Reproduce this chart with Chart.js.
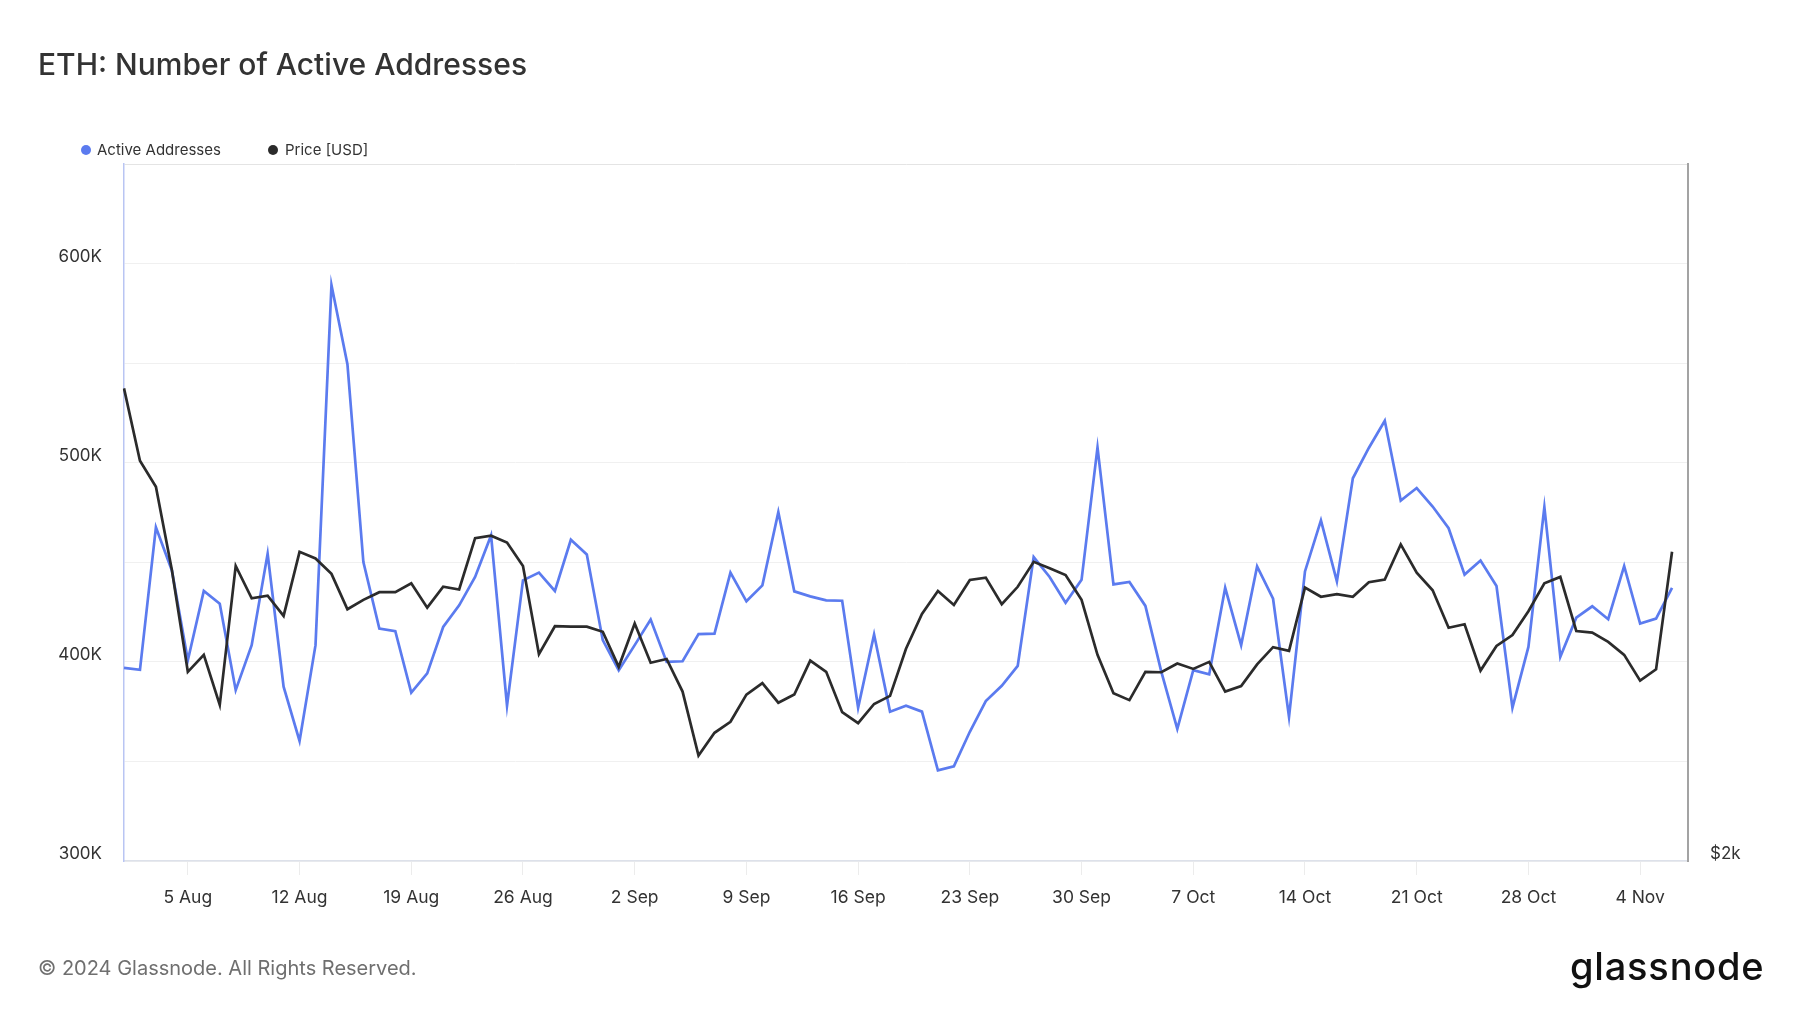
<!DOCTYPE html>
<html>
<head>
<meta charset="utf-8">
<script src="https://cdn.jsdelivr.net/npm/chart.js@4.4.1/dist/chart.umd.min.js"></script>
<style>
  html, body { margin: 0; padding: 0; background: #fff; }
  body { width: 1800px; height: 1013px; position: relative; overflow: hidden; font-family: Inter, 'Noto Sans', sans-serif; }
  #title { position: absolute; left: 38px; top: 45px; font-size: 30px; font-weight: 500; color: #333; line-height: 38px; }
  .leg { position: absolute; top: 141px; font-size: 15px; color: #333; line-height: 18px; }
  .dot { position: absolute; top: 4px; width: 10px; height: 10px; border-radius: 50%; }
  #footer { position: absolute; left: 38px; top: 955px; font-size: 20px; color: #6f6f6f; line-height: 26px; }
  #logo { position: absolute; left: 1570px; top: 947px; font-size: 38px; font-weight: 500; color: #111; letter-spacing: 0.8px; line-height: 38px; }
  #wrap { position: absolute; left: 0; top: 0; width: 1800px; height: 1013px; }
</style>
</head>
<body>
<div id="wrap"><canvas id="myChart" width="1800" height="1013"></canvas></div>
<div id="title">ETH: Number of Active Addresses</div>
<div class="leg" style="left:97px"><span class="dot" style="left:-16px;background:#5b7bef"></span>Active Addresses</div>
<div class="leg" style="left:285px"><span class="dot" style="left:-17px;background:#2b2b2b"></span>Price [USD]</div>
<div id="footer">© 2024 Glassnode. All Rights Reserved.</div>
<div id="logo">glassnode</div>
<script>
const ctx = document.getElementById('myChart');

const days = [
  '1 Aug','2 Aug','3 Aug','4 Aug','5 Aug','6 Aug','7 Aug','8 Aug','9 Aug','10 Aug','11 Aug','12 Aug','13 Aug','14 Aug','15 Aug','16 Aug',
  '17 Aug','18 Aug','19 Aug','20 Aug','21 Aug','22 Aug','23 Aug','24 Aug','25 Aug','26 Aug','27 Aug','28 Aug','29 Aug','30 Aug','31 Aug',
  '1 Sep','2 Sep','3 Sep','4 Sep','5 Sep','6 Sep','7 Sep','8 Sep','9 Sep','10 Sep','11 Sep','12 Sep','13 Sep','14 Sep','15 Sep',
  '16 Sep','17 Sep','18 Sep','19 Sep','20 Sep','21 Sep','22 Sep','23 Sep','24 Sep','25 Sep','26 Sep','27 Sep','28 Sep','29 Sep','30 Sep',
  '1 Oct','2 Oct','3 Oct','4 Oct','5 Oct','6 Oct','7 Oct','8 Oct','9 Oct','10 Oct','11 Oct','12 Oct','13 Oct','14 Oct','15 Oct','16 Oct',
  '17 Oct','18 Oct','19 Oct','20 Oct','21 Oct','22 Oct','23 Oct','24 Oct','25 Oct','26 Oct','27 Oct','28 Oct','29 Oct','30 Oct','31 Oct',
  '1 Nov','2 Nov','3 Nov','4 Nov','5 Nov','6 Nov','7 Nov'
];

const xTickLabels = ['5 Aug','12 Aug','19 Aug','26 Aug','2 Sep','9 Sep','16 Sep','23 Sep','30 Sep','7 Oct','14 Oct','21 Oct','28 Oct','4 Nov'];
const yTickLabels = [300000, 400000, 500000, 600000];
const priceTickLabels = [2000];

const activeAddresses = [
  397000, 396000, 467600, 445900, 400800, 435600, 429200, 385800, 408400, 454300,
  387500, 360300, 408400, 589200, 549500, 450100, 416700, 415400, 384600, 394200,
  417500, 428400, 442600, 463500, 378000, 440900, 444800, 435600, 461300, 453900,
  410900, 395800, 408400, 421200, 400000, 400300, 413900, 414200, 444800, 430400,
  438400, 475200, 435400, 432900, 430900, 430700, 377000, 413700, 375000, 378000,
  375000, 345500, 347500, 364900, 380300, 388000, 398000, 452600, 442600, 429700,
  441200, 507700, 438900, 440100, 428100, 395000, 366300, 395800, 393700, 437200,
  408400, 447900, 431700, 372400, 445400, 471000, 440400, 492200, 507400, 521100,
  481000, 487300, 478000, 467100, 443800, 450900, 438100, 377000, 407500, 477700,
  402500, 422200, 427900, 421400, 448100, 419200, 421700, 437200
];

const priceUsd = [
  3200, 2978, 2902, 2671, 2414, 2455, 2336, 2682, 2597, 2604,
  2552, 2720, 2702, 2661, 2569, 2593, 2613, 2613, 2636, 2573,
  2627, 2620, 2757, 2764, 2745, 2682, 2457, 2526, 2525, 2525,
  2512, 2426, 2533, 2436, 2445, 2367, 2221, 2272, 2297, 2360,
  2387, 2341, 2360, 2441, 2414, 2319, 2294, 2338, 2357, 2470,
  2557, 2616, 2580, 2645, 2651, 2582, 2627, 2693, 2676, 2658,
  2593, 2455, 2363, 2347, 2414, 2413, 2434, 2421, 2438, 2367,
  2380, 2432, 2474, 2465, 2625, 2601, 2608, 2601, 2639, 2646,
  2740, 2664, 2618, 2522, 2531, 2417, 2477, 2504, 2564, 2636,
  2653, 2514, 2510, 2487, 2455, 2393, 2420, 2720
];

Chart.defaults.font.family = 'Inter, "Noto Sans", sans-serif';
Chart.defaults.color = '#333';

let t = {
  type: 'line',
  data: {
    labels: days,
    datasets: [
      {
        label: 'Price [USD]',
        data: priceUsd,
        yAxisID: 'price',
        borderColor: '#2b2b2b',
        borderWidth: 2.7,
        pointRadius: 0,
        tension: 0,
        order: 0
      },
      {
        label: 'Active Addresses',
        data: activeAddresses,
        yAxisID: 'y',
        borderColor: '#5b7bef',
        borderWidth: 2.7,
        pointRadius: 0,
        tension: 0,
        order: 1
      }
    ]
  },
  options: {
    responsive: false,
    animation: false,
    devicePixelRatio: 1,
    layout: { padding: { top: 164, bottom: 102, left: 0, right: 0 } },
    scales: {
      x: {
        type: 'category',
        offset: false,
        afterBuildTicks: scale => {
          scale.ticks = scale.ticks.filter(tk => xTickLabels.includes(days[tk.value]));
        },
        afterFit: scale => { scale.height = 50; },
        ticks: {
          autoSkip: false,
          maxRotation: 0,
          padding: 12,
          font: { size: 17.5 },
          color: '#333'
        },
        grid: {
          drawOnChartArea: false,
          drawTicks: true,
          tickLength: 14,
          tickColor: '#ececec'
        },
        border: { display: true, color: '#dde1ea', width: 1.5 }
      },
      y: {
        position: 'left',
        min: 300000,
        max: 650000,
        afterFit: scale => { scale.width = 124; },
        ticks: {
          stepSize: 50000,
          padding: 22,
          labelOffset: -7,
          font: { size: 17 },
          color: '#333',
          callback: value => yTickLabels.includes(value) ? (value / 1000) + 'K' : ''
        },
        grid: {
          drawTicks: false,
          color: ctx => ctx.tick && ctx.tick.value === 650000 ? '#e4e4e4' : '#f0f0f0',
          lineWidth: 1
        },
        border: { display: true, color: '#b9c5f3', width: 1.5 }
      },
      price: {
        type: 'logarithmic',
        position: 'right',
        min: 2000,
        max: 4000,
        afterFit: scale => { scale.width = 112; },
        afterBuildTicks: scale => {
          scale.ticks = priceTickLabels.map(v => ({ value: v }));
        },
        ticks: {
          padding: 22,
          labelOffset: -7,
          font: { size: 17 },
          color: '#333',
          callback: value => '$' + (value / 1000) + 'k'
        },
        grid: { display: false, drawTicks: false },
        border: { display: true, color: '#a3a3a3', width: 2 }
      }
    },
    plugins: {
      legend: { display: false },
      tooltip: { enabled: false }
    }
  }
};

let cc = new Chart(ctx, t);
</script>
</body>
</html>
